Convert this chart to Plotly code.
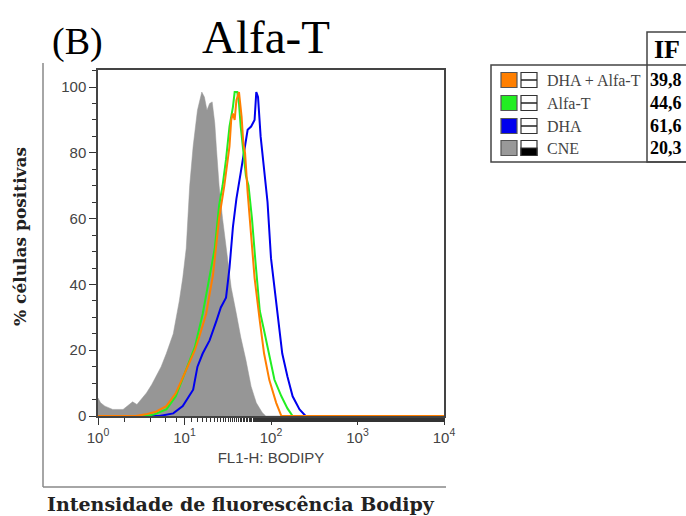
import numpy as np
import plotly.graph_objects as go

# ---- data (log10 of fluorescence intensity, % of max) ----
cne_log = [0, 0.03, 0.08, 0.17, 0.29, 0.36, 0.40, 0.45, 0.50, 0.56, 0.62, 0.67, 0.73, 0.79, 0.87, 0.94,
           0.98, 1.02, 1.06, 1.10, 1.15, 1.20, 1.23, 1.26, 1.29, 1.32, 1.35, 1.37, 1.40, 1.44, 1.50,
           1.54, 1.60, 1.65, 1.71, 1.77, 1.83, 1.90, 1.94, 4.0]
cne_y = [5.5, 4, 3, 2, 2, 3.5, 4.3, 3.5, 5, 7, 9.5, 12, 15, 19, 25, 35,
         42, 51, 70, 82, 93, 98.5, 97, 93, 95, 95.5, 89, 81, 70, 60, 47,
         39, 31, 24, 17, 9, 4, 1, 0, 0]

alfa_log = [0, 0.56, 0.65, 0.79, 0.90, 1.02, 1.12, 1.21, 1.29, 1.35, 1.40, 1.44, 1.48, 1.52, 1.56, 1.58,
            1.61, 1.63, 1.65, 1.68, 1.71, 1.74, 1.78, 1.82, 1.87, 1.92, 1.98, 2.04, 2.12, 2.19, 2.25, 4.0]
alfa_y = [0, 0, 0.5, 2, 6, 14, 21, 31, 43, 51, 64, 70, 78, 88, 94, 98.5,
          98.5, 95, 88, 80, 73, 70, 60, 47, 32, 26, 18, 11, 6, 2.3, 0, 0]

dha_alfa_log = [0, 0.44, 0.55, 0.67, 0.79, 0.90, 1.02, 1.12, 1.17, 1.25, 1.33, 1.40, 1.46, 1.52, 1.54,
                1.56, 1.58, 1.60, 1.63, 1.66, 1.68, 1.70, 1.73, 1.77, 1.81, 1.87, 1.92, 1.98, 2.06, 2.12, 4.0]
dha_alfa_y = [0, 0, 0.5, 1.3, 3, 7, 14, 20, 24, 31, 43, 60, 70, 82, 90,
              92, 90, 96, 98.5, 91, 83, 80, 68, 54, 42, 29, 19, 11, 4, 0, 0]

dha_log = [0, 0.71, 0.87, 0.98, 1.10, 1.15, 1.21, 1.29, 1.37, 1.42, 1.48, 1.52, 1.56, 1.60, 1.65, 1.69,
           1.73, 1.77, 1.81, 1.83, 1.85, 1.88, 1.92, 1.96, 2.00, 2.04, 2.08, 2.13, 2.19, 2.25, 2.33, 2.40, 4.0]
dha_y = [0, 0, 0.8, 3, 8, 15, 19, 23, 29, 33, 36, 45, 57.5, 66, 74, 80,
         87, 88, 90, 98.5, 97, 85, 75, 65, 48, 39, 29, 19, 12, 6, 2, 0, 0]

legend_names = ["DHA + Alfa-T", "Alfa-T", "DHA", "CNE"]
legend_if = ["39,8", "44,6", "61,6", "20,3"]
legend_colors = ["#FF7F00", "#22EE22", "#0000EE", "#999999"]

x_tickvals = [1, 10, 100, 1000, 10000]
x_ticktext = ["10<sup>0</sup>", "10<sup>1</sup>", "10<sup>2</sup>", "10<sup>3</sup>", "10<sup>4</sup>"]
y_tickvals = [0, 20, 40, 60, 80, 100]

W, H = 686, 516
L, R, T, B = 98, 444, 70, 416


def px(x):
    return (x - L) / (R - L)


def py(y):
    return (B - y) / (B - T)


fig = go.Figure()
fig.add_trace(go.Scatter(x=10 ** np.array(cne_log), y=cne_y, mode="lines",
                         line=dict(color="#969696", width=0.5), fill="tozeroy",
                         fillcolor="#969696", showlegend=False))
fig.add_trace(go.Scatter(x=10 ** np.array(dha_log), y=dha_y, mode="lines",
                         line=dict(color=legend_colors[2], width=2), showlegend=False))
fig.add_trace(go.Scatter(x=10 ** np.array(alfa_log), y=alfa_y, mode="lines",
                         line=dict(color=legend_colors[1], width=2), showlegend=False))
fig.add_trace(go.Scatter(x=10 ** np.array(dha_alfa_log), y=dha_alfa_y, mode="lines",
                         line=dict(color=legend_colors[0], width=2), showlegend=False))

tickfont = dict(family="Arial, Liberation Sans", size=15, color="#444444")
fig.update_xaxes(type="log", range=[0, 4], tickvals=x_tickvals, ticktext=x_ticktext,
                 ticks="outside", ticklen=7, tickwidth=1.2, tickcolor="#333333",
                 minor=dict(ticks="outside", ticklen=4, tickcolor="#333333", tickwidth=1),
                 showline=True, linecolor="#444444", linewidth=1.5, mirror=True,
                 showgrid=False, zeroline=False, tickfont=tickfont,
                 title=dict(text="FL1-H: BODIPY", font=dict(family="Arial, Liberation Sans", size=15,
                                                              color="#444444"), standoff=8))
fig.update_yaxes(range=[0, 105.2], tickvals=y_tickvals,
                 ticks="outside", ticklen=7, tickwidth=1.2, tickcolor="#333333",
                 minor=dict(ticks="outside", ticklen=4, dtick=5, tickcolor="#333333", tickwidth=1),
                 showline=True, linecolor="#444444", linewidth=1.5, mirror=True,
                 showgrid=False, zeroline=False, tickfont=tickfont)

shapes = []
# outer frame (left + bottom)
shapes.append(dict(type="line", xref="paper", yref="paper", x0=px(43), x1=px(43), y0=py(63), y1=py(487),
                   line=dict(color="#888888", width=1.5)))
shapes.append(dict(type="line", xref="paper", yref="paper", x0=px(43), x1=px(446), y0=py(487), y1=py(487),
                   line=dict(color="#888888", width=1.5)))
# legend table
tl, tt, tb, tr, tdiv = 491, 65, 162, 687, 647
shapes.append(dict(type="rect", xref="paper", yref="paper", x0=px(tl), x1=px(tr), y0=py(tt), y1=py(tb),
                   line=dict(color="#444444", width=1.5)))
shapes.append(dict(type="rect", xref="paper", yref="paper", x0=px(tdiv), x1=px(tr), y0=py(32), y1=py(tb),
                   line=dict(color="#444444", width=1.5)))
row_y = [80, 103, 126, 148]
annotations = []
for i, (name, val, col) in enumerate(zip(legend_names, legend_if, legend_colors)):
    yc = row_y[i]
    shapes.append(dict(type="rect", xref="paper", yref="paper", x0=px(501), x1=px(517),
                       y0=py(yc - 7.5), y1=py(yc + 7.5), fillcolor=col,
                       line=dict(color="#555555", width=1.2)))
    shapes.append(dict(type="rect", xref="paper", yref="paper", x0=px(521), x1=px(537),
                       y0=py(yc - 7.5), y1=py(yc + 7.5), fillcolor="white",
                       line=dict(color="#333333", width=1.2)))
    if name == "CNE":
        shapes.append(dict(type="rect", xref="paper", yref="paper", x0=px(521), x1=px(537),
                           y0=py(yc), y1=py(yc + 7.5), fillcolor="black",
                           line=dict(color="#333333", width=1.2)))
    else:
        shapes.append(dict(type="line", xref="paper", yref="paper", x0=px(521), x1=px(537),
                           y0=py(yc), y1=py(yc), line=dict(color="#222222", width=1.5)))
    annotations.append(dict(text=name, xref="paper", yref="paper", x=px(545), y=py(yc),
                            xanchor="left", yanchor="middle", showarrow=False,
                            font=dict(family="Liberation Serif, Times New Roman", size=16, color="#444444")))
    annotations.append(dict(text="<b>" + val + "</b>", xref="paper", yref="paper", x=px(666), y=py(yc),
                            xanchor="center", yanchor="middle", showarrow=False,
                            font=dict(family="Liberation Serif, Times New Roman", size=18, color="black")))
annotations.append(dict(text="<b>IF</b>", xref="paper", yref="paper", x=px(667), y=py(49),
                        xanchor="center", yanchor="middle", showarrow=False,
                        font=dict(family="Liberation Serif, Times New Roman", size=26, color="black")))
# titles
annotations.append(dict(text="(B)", xref="paper", yref="paper", x=px(77), y=py(41),
                        xanchor="center", yanchor="middle", showarrow=False,
                        font=dict(family="Liberation Serif, Times New Roman", size=38, color="black")))
annotations.append(dict(text="Alfa-T", xref="paper", yref="paper", x=px(266), y=py(37),
                        xanchor="center", yanchor="middle", showarrow=False,
                        font=dict(family="Liberation Serif, Times New Roman", size=47, color="black")))
annotations.append(dict(text="<b>% células positivas</b>", xref="paper", yref="paper", x=px(20), y=py(237),
                        xanchor="center", yanchor="middle", showarrow=False, textangle=-90,
                        font=dict(family="DejaVu Serif", size=17, color="#222222")))
annotations.append(dict(text="<b>Intensidade de fluorescência Bodipy</b>", xref="paper", yref="paper",
                        x=px(241), y=py(504), xanchor="center", yanchor="middle", showarrow=False,
                        font=dict(family="DejaVu Serif", size=19, color="#222222")))

fig.update_layout(width=W, height=H, margin=dict(l=L, r=W - R, t=T, b=H - B),
                  paper_bgcolor="white", plot_bgcolor="white",
                  shapes=shapes, annotations=annotations, showlegend=False)

fig.write_html("out.html")
